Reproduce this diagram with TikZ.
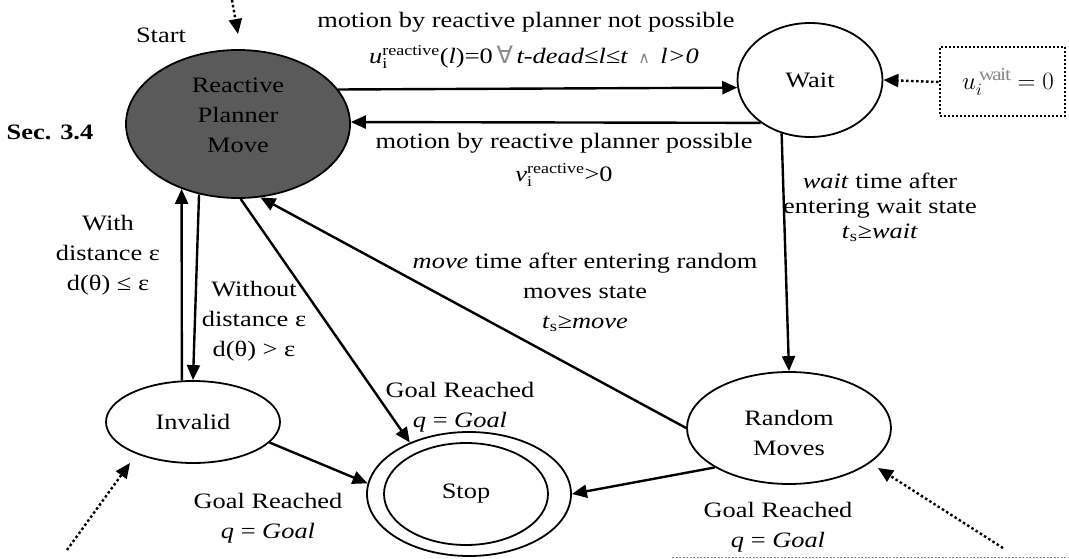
\documentclass[tikz,border=0pt]{standalone}
\usepackage{fontspec}
\setmainfont{Liberation Serif}[FakeStretch=1.2]
\newfontfamily\symfont{DejaVu Sans}
\usetikzlibrary{shapes.geometric,arrows.meta}
\definecolor{plannerfill}{HTML}{5A5A5A}
\definecolor{faint}{HTML}{8A8A8A}
% variable with an upright subscript and superscript stacked in one box
\newcommand{\stackvar}[3]{$\textit{#1}_{\hbox{\fontsize{15}{15}\selectfont #2}}^{\hbox{\fontsize{15}{15}\selectfont #3}}$}
\begin{document}
\begin{tikzpicture}[x=1pt,y=-1pt,
  every node/.style={font=\fontsize{22}{30}\selectfont},
  state/.style={ellipse, draw, line width=1.8pt, inner sep=0pt, align=center},
  tr/.style={line width=2.4pt, -{Triangle[length=15pt,width=13pt]}},
  dots/.style={tr, dash pattern=on 2.5pt off 2.5pt},
  lbl/.style={align=center, inner sep=0pt}]
\useasboundingbox (0,0) rectangle (1069,559);

% states
\node[state, fill=plannerfill, minimum width=224pt, minimum height=148pt, text depth=17pt] (rpm) at (238,124) {Reactive\\Planner\\Move};
\node[state, minimum width=145pt, minimum height=114pt] (wait) at (810,80) {Wait};
\node[state, minimum width=174pt, minimum height=82pt] (inv) at (193,422) {Invalid};
\node[state, minimum width=204pt, minimum height=124pt] (stop) at (469,494) {};
\node[state, minimum width=164pt, minimum height=102pt] (stopin) at (466,494) {Stop};
\node[state, minimum width=204pt, minimum height=112pt, text height=55pt] (rand) at (789,428) {Random\\Moves};
\node[draw, line width=2pt, dash pattern=on 2pt off 2pt, minimum width=125pt, minimum height=69pt, inner sep=0pt]
  (wbox) at (1002,82) {\fontsize{26}{30}\selectfont\hspace*{12pt}$u_i^{\,\textcolor{faint}{\mathrm{wait}}} = 0$};

% entry points
\coordinate (startsrc) at (232,0);
\coordinate (starttip) at (238,34);
\coordinate (invsrc) at (67,550);
\coordinate (invtip) at (130,463);
\coordinate (randsrc) at (1003,548);
\coordinate (randtip) at (878,468);
\coordinate (rulel) at (672,557);
\coordinate (ruler) at (1069,557);

% transitions
\draw[tr] (rpm.19) -- (wait.186);
\draw[tr] (wait.221) -- (rpm.1);
\draw[tr] (wait.242) -- (rand.north);
\draw[tr] (rand.west) -- (rpm.-73);
\draw[tr] (rpm.-119) -- (inv.north);
\draw[tr] (inv.105) -- (rpm.-131);
\draw[tr] (rpm.-88) -- (stop.139);
\draw[tr] (inv.-15) -- (stop.174);
\draw[tr] (rand.-152) -- (stop.east);
\draw[dots] (wbox.west) -- (wait.east);
\draw[dots] (startsrc) -- (starttip);
\draw[dots] (invsrc) -- (invtip);
\draw[dots] (randsrc) -- (randtip);
\draw[faint, line width=0.7pt, dash pattern=on 2pt off 1.5pt] (rulel) -- (ruler);

% labels
\node[lbl] (lstart) at (161,35) {Start};
\node[lbl, font=\fontsize{22}{30}\selectfont\bfseries] (lsec) at (50,132) {Sec. 3.4};
\node[lbl] (lnot) at (526,22) {motion by reactive planner not possible};
\node[lbl] (lnotf) at (534,57) {\stackvar{u}{i}{reactive}(\textit{l})=0\,{\color{faint}\symfont\fontsize{24}{24}\selectfont ∀}\,\textit{t-dead≤l≤t}\, {\color{faint}\symfont\fontsize{16}{20}\selectfont ∧}\, \textit{l>0}};
\node[lbl] (lpos) at (564,143) {motion by reactive planner possible};
\node[lbl] (lposf) at (564,175) {\stackvar{v}{i}{reactive}>0};
\node[lbl, font=\fontsize{22}{25}\selectfont] (lwait) at (880,207) {\textit{wait} time after\\entering wait state\\\textit{t}\textsubscript{s}\textit{≥wait}};
\node[lbl] (lmove) at (585,292) {\textit{move} time after entering random\\moves state\\\textit{t}\textsubscript{s}\textit{≥move}};
\node[lbl] (lwith) at (108,255) {With\\distance ε\\d(θ) ≤ ε};
\node[lbl] (lwithout) at (254,321) {Without\\distance ε\\d(θ) > ε};
\node[lbl] (lgoala) at (460,407) {Goal Reached\\\textit{q} = \textit{Goal}};
\node[lbl] (lgoalb) at (268,518) {Goal Reached\\\textit{q} = \textit{Goal}};
\node[lbl] (lgoalc) at (778,527) {Goal Reached\\\textit{q} = \textit{Goal}};
\end{tikzpicture}
\end{document}
